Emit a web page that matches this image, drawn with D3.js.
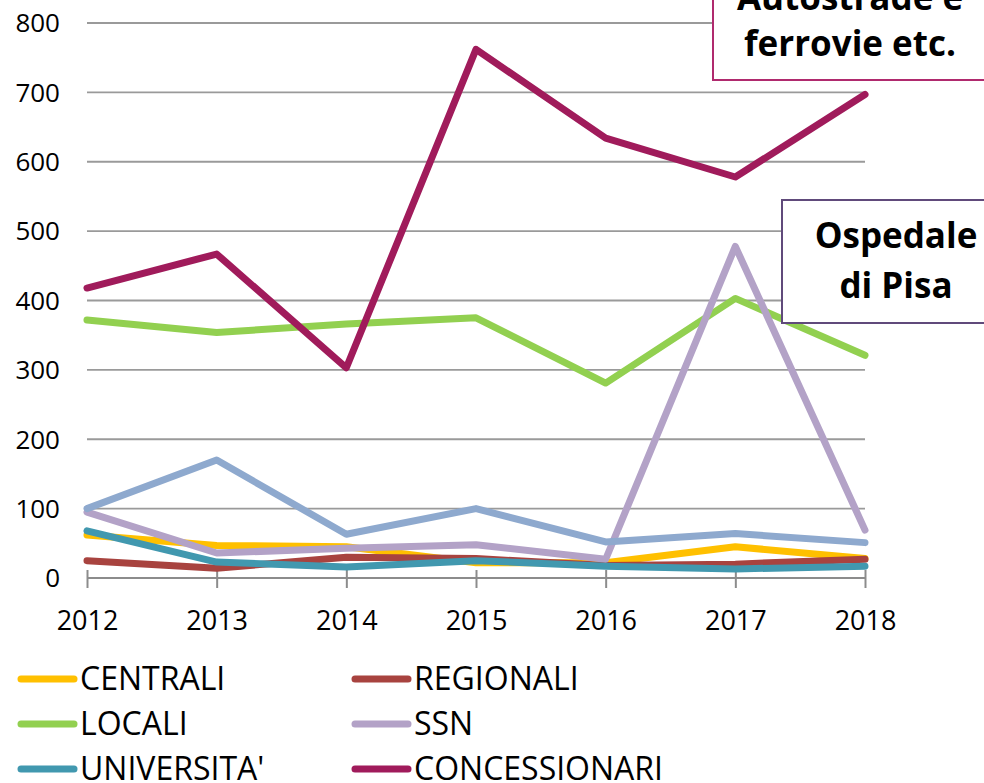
<!DOCTYPE html>
<html>
<head>
<meta charset="utf-8">
<script src="https://cdn.jsdelivr.net/npm/d3@7"></script>
<style>
  body { margin: 0; background: #fff; }
  text { font-family: "Open Sans", sans-serif; }
</style>
</head>
<body>
<svg id="chart" width="984" height="783"></svg>
<script>
var years = ["2012", "2013", "2014", "2015", "2016", "2017", "2018"];
var yTicks = [0, 100, 200, 300, 400, 500, 600, 700, 800];

var centrali      = [62, 47, 45, 22, 22, 45, 28];
var regionali     = [25, 14, 30, 28, 18, 20, 27];
var locali        = [372, 354, 366, 375, 281, 403, 321];
var ssn           = [95, 36, 43, 48, 27, 478, 69];
var universita    = [68, 23, 16, 25, 17, 13, 17];
var concessionari = [418, 467, 303, 762, 634, 578, 697];
var altri         = [100, 170, 63, 100, 52, 64, 51];

var seriesNames  = ["CENTRALI", "REGIONALI", "LOCALI", "SSN", "UNIVERSITA'", "CONCESSIONARI", "ALTRI"];
var seriesColors = ["#FFC000", "#A8433F", "#92D050", "#B3A2C7", "#4198AF", "#A01B5B", "#8EA9CE"];
var seriesValues = [centrali, regionali, locali, ssn, universita, concessionari, altri];

var svg = d3.select("#chart");

var x = d3.scalePoint().domain(years).range([87, 865]);
var y = d3.scaleLinear().domain([0, 800]).range([578, 23]);

// gridlines
svg.append("g")
  .selectAll("line")
  .data(yTicks.filter(d => d > 0))
  .join("line")
  .attr("x1", 87).attr("x2", 865)
  .attr("y1", d => y(d)).attr("y2", d => y(d))
  .attr("stroke", "#9a9a9a")
  .attr("stroke-width", 1.8);

// y labels
svg.append("g")
  .selectAll("text")
  .data(yTicks)
  .join("text")
  .attr("x", 60)
  .attr("y", d => y(d))
  .attr("dy", "0.36em")
  .attr("text-anchor", "end")
  .attr("font-size", 26)
  .attr("fill", "#000")
  .text(d => d);

// x axis
var xAxis = d3.axisBottom(x).tickSize(0).tickPadding(0);
var gx = svg.append("g").attr("transform", "translate(0,578)").call(xAxis);
gx.select(".domain").attr("stroke", "#8c8c8c").attr("stroke-width", 2).attr("d", "M87,0H865");
gx.selectAll(".tick line").remove();
gx.selectAll(".tick")
  .append("line")
  .attr("y1", -8).attr("y2", 10)
  .attr("stroke", "#8c8c8c")
  .attr("stroke-width", 2);
gx.selectAll(".tick text")
  .attr("y", 52)
  .attr("dy", null)
  .attr("font-size", 27)
  .attr("font-family", "Open Sans, sans-serif")
  .attr("fill", "#000");

// lines
var line = d3.line()
  .x((d, i) => x(years[i]))
  .y(d => y(d));

svg.append("g")
  .selectAll("path")
  .data(seriesValues)
  .join("path")
  .attr("d", d => line(d))
  .attr("fill", "none")
  .attr("stroke", (d, i) => seriesColors[i])
  .attr("stroke-width", 7)
  .attr("stroke-linejoin", "round")
  .attr("stroke-linecap", "round");

// legend, two columns (only the six entries visible in the frame)
var legend = svg.append("g")
  .selectAll("g")
  .data(seriesNames.slice(0, 6))
  .join("g")
  .attr("transform", (d, i) => "translate(" + (i % 2 === 0 ? 18 : 352) + "," + (679 + Math.floor(i / 2) * 45) + ")");

legend.append("line")
  .attr("x1", 3).attr("x2", 56)
  .attr("y1", 0).attr("y2", 0)
  .attr("stroke", (d, i) => seriesColors[i])
  .attr("stroke-width", 7)
  .attr("stroke-linecap", "round");

legend.append("text")
  .attr("x", 62)
  .attr("y", 11)
  .attr("font-size", 32)
  .attr("fill", "#000")
  .text(d => d);

// annotation boxes
var notes = [
  { lines: ["Autostrade e", "ferrovie etc."], x0: 713, y0: -20, x1: 1000, y1: 80, stroke: "#B02A6E", cx: 850, base: [10, 56] },
  { lines: ["Ospedale", "di Pisa"], x0: 782, y0: 200, x1: 1000, y1: 323, stroke: "#604A7B", cx: 896, base: [248, 298] }
];

var note = svg.append("g")
  .selectAll("g")
  .data(notes)
  .join("g");

note.append("rect")
  .attr("x", d => d.x0).attr("y", d => d.y0)
  .attr("width", d => d.x1 - d.x0).attr("height", d => d.y1 - d.y0)
  .attr("fill", "#fff")
  .attr("stroke", d => d.stroke)
  .attr("stroke-width", 2);

note.each(function (d) {
  d3.select(this).selectAll("text")
    .data(d.lines)
    .join("text")
    .attr("x", d.cx)
    .attr("y", (t, i) => d.base[i])
    .attr("text-anchor", "middle")
    .attr("font-size", 35)
    .attr("font-weight", "bold")
    .attr("fill", "#000")
    .text(t => t);
});
</script>
</body>
</html>
